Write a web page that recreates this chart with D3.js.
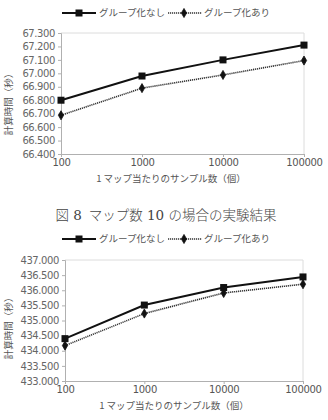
<!DOCTYPE html>
<html>
<head>
<meta charset="utf-8">
<script src="https://cdn.jsdelivr.net/npm/d3@7"></script>
<style>
  body { margin: 0; background: #fff; }
  text { font-family: "Noto Sans CJK JP", "DejaVu Sans", sans-serif; }
</style>
</head>
<body>
<div id="chart"></div>
<script>
// Data
const samples = [100, 1000, 10000, 100000];
const seriesNames = ["グループ化なし", "グループ化あり"];

// chart 1 (top)
const top_noGroup = [66.800, 66.980, 67.100, 67.210];
const top_group = [66.688, 66.890, 66.988, 67.095];
const top_ticks = [66.4, 66.5, 66.6, 66.7, 66.8, 66.9, 67.0, 67.1, 67.2, 67.3];

// chart 2 (bottom)
const bot_noGroup = [434.400, 435.510, 436.090, 436.440];
const bot_group = [434.170, 435.230, 435.910, 436.200];
const bot_ticks = [433.0, 433.5, 434.0, 434.5, 435.0, 435.5, 436.0, 436.5, 437.0];

const xLabel = "1 マップ当たりのサンプル数（個）";
const yLabel = "計算時間（秒）";
const caption = "図 8\u2002マップ数 10 の場合の実験結果";

const width = 328;
const height = 420;

const svg = d3.select("#chart")
  .append("svg")
  .attr("width", width)
  .attr("height", height);

// draw one chart with legend, axes and two lines
function drawChart(opt) {
  const x = d3.scaleLog()
    .domain([samples[0], samples[samples.length - 1]])
    .range([opt.left, opt.right]);

  const y = d3.scaleLinear()
    .domain([opt.ticks[0], opt.ticks[opt.ticks.length - 1]])
    .range([opt.bottom, opt.top]);

  const g = svg.append("g");

  // plot border (top and right)
  g.append("path")
    .attr("d", "M" + opt.left + "," + opt.top + "H" + opt.right + "V" + opt.bottom)
    .attr("fill", "none")
    .attr("stroke", "#dcdcdc")
    .attr("stroke-width", 1);

  // y axis
  const yAxis = g.append("g")
    .attr("transform", "translate(" + opt.left + ",0)")
    .call(d3.axisLeft(y).tickValues(opt.ticks).tickFormat(d3.format(".3f")).tickSize(3).tickPadding(3));
  yAxis.select(".domain").attr("stroke", "#b0b0b0");
  yAxis.selectAll(".tick line").attr("stroke", "#b0b0b0");
  yAxis.selectAll(".tick text")
    .attr("fill", "#666")
    .style("font-size", "10px")
    .style("font-family", "'DejaVu Sans', sans-serif")
    .style("letter-spacing", "-0.4px");

  // x axis
  const xAxis = g.append("g")
    .attr("transform", "translate(0," + opt.bottom + ")")
    .call(d3.axisBottom(x).tickValues(samples).tickFormat(d3.format("d")).tickSize(3).tickPadding(2));
  xAxis.select(".domain").attr("stroke", "#b0b0b0");
  xAxis.selectAll(".tick line").attr("stroke", "#b0b0b0");
  xAxis.selectAll(".tick text")
    .attr("fill", "#555")
    .style("font-size", "10px")
    .style("font-family", "'DejaVu Sans', sans-serif")
    .style("letter-spacing", "-0.3px");

  // axis titles
  g.append("text")
    .attr("x", opt.xLabelX)
    .attr("y", opt.bottom + 28)
    .attr("text-anchor", "middle")
    .attr("fill", "#555")
    .style("font-size", "9.5px")
    .text(xLabel);

  g.append("text")
    .attr("transform", "translate(12," + opt.yLabelY + ") rotate(-90)")
    .attr("text-anchor", "middle")
    .attr("fill", "#555")
    .style("font-size", "9.5px")
    .text(yLabel);

  const line = d3.line()
    .x(function(d, i) { return x(samples[i]); })
    .y(function(d) { return y(d); });

  // series 1 : solid + squares
  g.append("path")
    .datum(opt.s1)
    .attr("d", line)
    .attr("fill", "none")
    .attr("stroke", "#111")
    .attr("stroke-width", 2);

  g.selectAll(".sq")
    .data(opt.s1)
    .enter()
    .append("rect")
    .attr("x", function(d, i) { return x(samples[i]) - 3.5; })
    .attr("y", function(d) { return y(d) - 3.5; })
    .attr("width", 7)
    .attr("height", 7)
    .attr("fill", "#111");

  // series 2 : dotted + diamonds
  g.append("path")
    .datum(opt.s2)
    .attr("d", line)
    .attr("fill", "none")
    .attr("stroke", "#333")
    .attr("stroke-width", 1.6)
    .attr("stroke-dasharray", "1.2,0.8");

  g.selectAll(".dm")
    .data(opt.s2)
    .enter()
    .append("path")
    .attr("d", d3.symbol().type(d3.symbolDiamond).size(24))
    .attr("transform", function(d, i) { return "translate(" + x(samples[i]) + "," + y(d) + ")"; })
    .attr("fill", "#111")
    .attr("stroke", "#111")
    .attr("stroke-width", 0.8)
    .attr("stroke-linejoin", "round");

  // legend
  const ly = opt.legendY;
  g.append("line")
    .attr("x1", 62).attr("x2", 96).attr("y1", ly).attr("y2", ly)
    .attr("stroke", "#111").attr("stroke-width", 2);
  g.append("rect")
    .attr("x", 79 - 3.5).attr("y", ly - 3.5).attr("width", 7).attr("height", 7)
    .attr("fill", "#111");
  g.append("text")
    .attr("x", 99).attr("y", ly).attr("dy", "0.35em")
    .attr("fill", "#555")
    .style("font-size", "9.5px")
    .text(seriesNames[0]);

  g.append("line")
    .attr("x1", 168).attr("x2", 202).attr("y1", ly).attr("y2", ly)
    .attr("stroke", "#333").attr("stroke-width", 1.4)
    .attr("stroke-dasharray", "1.2,0.8");
  g.append("path")
    .attr("d", d3.symbol().type(d3.symbolDiamond).size(24))
    .attr("transform", "translate(184," + ly + ")")
    .attr("fill", "#111")
    .attr("stroke", "#111")
    .attr("stroke-width", 0.8)
    .attr("stroke-linejoin", "round");
  g.append("text")
    .attr("x", 204).attr("y", ly).attr("dy", "0.35em")
    .attr("fill", "#555")
    .style("font-size", "9.5px")
    .text(seriesNames[1]);
}

drawChart({
  left: 61, right: 304, top: 33, bottom: 154,
  ticks: top_ticks, s1: top_noGroup, s2: top_group,
  legendY: 13, xLabelX: 171, yLabelY: 102
});

// caption between the charts
svg.append("text")
  .attr("x", 166)
  .attr("y", 215)
  .attr("dy", "0.35em")
  .attr("text-anchor", "middle")
  .attr("fill", "#444")
  .style("font-size", "13.5px")
  .style("font-weight", "300")
  .style("font-family", "'DejaVu Serif', 'Noto Sans CJK JP', serif")
  .text(caption);

drawChart({
  left: 65, right: 303, top: 260, bottom: 381,
  ticks: bot_ticks, s1: bot_noGroup, s2: bot_group,
  legendY: 239, xLabelX: 174, yLabelY: 326
});
</script>
</body>
</html>
